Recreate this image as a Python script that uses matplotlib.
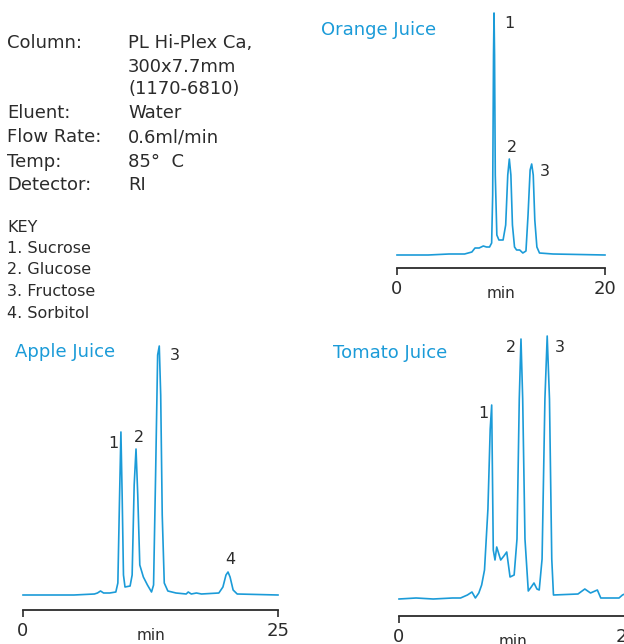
"""
Sugar profiles of three fruit juices on a PL Hi-Plex Ca column.
"""
import matplotlib
matplotlib.use("Agg")
import matplotlib.pyplot as plt

W, H = 624, 644
BLUE = "#1b9bd8"
DARK = "#2b2b2b"

# traces: time (min), detector response (a.u.)
orange_t = [0, 3, 5, 6.5, 7.2, 7.5, 7.9, 8.3, 8.6, 8.9, 9.1, 9.2, 9.28, 9.33, 9.38, 9.45, 9.6, 9.8,
            10.2, 10.45, 10.65, 10.8, 10.95, 11.1, 11.3, 11.5, 11.8, 12.1, 12.4, 12.6, 12.8, 12.95,
            13.1, 13.25, 13.45, 13.7, 15, 20]
orange_s = [0, 0, 1, 1, 3, 7, 7, 9, 8, 8, 12, 60, 200, 242, 200, 80, 20, 15,
            15, 30, 80, 96, 80, 30, 8, 5, 5, 2, 4, 40, 85, 91,
            80, 35, 8, 2, 1, 0]

apple_t = [0, 5, 7, 7.3, 7.6, 7.9, 8.5, 9.1, 9.3, 9.45, 9.6, 9.72, 9.85, 10.0, 10.5, 10.7, 10.9,
           11.08, 11.25, 11.45, 11.8, 12.2, 12.6, 12.8, 13.0, 13.2, 13.36, 13.5, 13.65, 13.85,
           14.2, 15, 16, 16.2, 16.5, 17, 17.5, 19.2, 19.6, 19.9, 20.1, 20.3, 20.6, 21, 25]
apple_s = [0, 0, 1, 2, 4, 2, 2, 3, 12, 90, 163, 100, 20, 8, 9, 20, 110,
           146, 100, 30, 18, 10, 3, 10, 120, 240, 249, 200, 80, 12,
           4, 2, 1, 3, 1, 2, 1, 2, 8, 20, 23, 18, 5, 1, 0]

tomato_t = [0, 1.5, 3, 4.7, 5.4, 6.0, 6.4, 6.7, 7.0, 7.25, 7.5, 7.8, 8.0, 8.13, 8.27, 8.42, 8.57,
            8.92, 9.2, 9.45, 9.74, 10.1, 10.35, 10.55, 10.7, 10.85, 11.05, 11.34, 11.6, 11.84,
            12.1, 12.3, 12.55, 12.8, 13.0, 13.2, 13.4, 13.55, 15.7, 16.3, 16.8, 17.4, 17.7, 19.3,
            19.6, 20]
tomato_s = [0, 1, 0, 1, 1, 4, 7, 1, 6, 14, 29, 90, 170, 194, 49, 39, 52,
            39, 43, 47, 22, 24, 60, 200, 260, 200, 60, 8, 12, 16,
            10, 9, 40, 200, 263, 200, 40, 4, 5, 10, 6, 9, 1, 1,
            4, 6]

orange_lbl, orange_lt, orange_ls = ["1", "2", "3"], [10.77, 11.06, 14.23], [232, 107, 83]
apple_lbl, apple_lt, apple_ls = ["1", "2", "3", "4"], [8.82, 11.37, 14.9, 20.3], [152, 157, 240, 35]
tomato_lbl, tomato_lt, tomato_ls = ["1", "2", "3"], [7.37, 9.82, 14.12], [186, 252, 252]

cond_keys = ["Column:", "", "", "Eluent:", "Flow Rate:", "Temp:", "Detector:"]
cond_vals = ["PL Hi-Plex Ca,", "300x7.7mm", "(1170-6810)", "Water", "0.6ml/min", "85°  C", "RI"]
key_lines = ["KEY", "1. Sucrose", "2. Glucose", "3. Fructose", "4. Sorbitol"]


def px(x, y):
    return x / W, 1 - y / H


def draw_panel(fig, x0, x1, y_top, y_base, y_axis, xmax, t, s, lbl, lt, ls, title, title_xy):
    ax = fig.add_axes([x0 / W, 1 - y_axis / H, (x1 - x0) / W, (y_axis - y_top) / H])
    ax.patch.set_visible(False)
    ax.plot(t, s, color=BLUE, lw=1.2, solid_joinstyle="round", clip_on=False)
    ax.set_xlim(0, xmax)
    ax.set_ylim(-(y_axis - y_base), y_base - y_top)
    for sp in ["top", "right", "left"]:
        ax.spines[sp].set_visible(False)
    ax.spines["bottom"].set_color(DARK)
    ax.spines["bottom"].set_linewidth(1.3)
    ax.set_yticks([])
    ax.set_xticks([0, xmax])
    ax.tick_params(axis="x", direction="out", length=5, width=1.2, colors=DARK, labelsize=13, pad=4)
    ax.text(xmax / 2, -(y_axis - y_base) - 25, "min", ha="center", va="center",
            fontsize=11, color=DARK, clip_on=False)
    for l, xt, yt in zip(lbl, lt, ls):
        ax.text(xt, yt, l, ha="center", va="center", fontsize=11.5, color=DARK, clip_on=False)
    fig.text(*px(*title_xy), title, ha="left", va="center", fontsize=13, color=BLUE)
    return ax


fig = plt.figure(figsize=(W / 100, H / 100), dpi=100)

# conditions block
rows_y = [43, 67, 89, 113, 137, 162, 185]
for k, v, yy in zip(cond_keys, cond_vals, rows_y):
    if k:
        fig.text(*px(7, yy), k, ha="left", va="center", fontsize=13, color=DARK)
    fig.text(*px(128, yy), v, ha="left", va="center", fontsize=13, color=DARK)

for line, yy in zip(key_lines, [227, 248, 270, 291, 313]):
    fig.text(*px(7, yy), line, ha="left", va="center", fontsize=11.5, color=DARK)

draw_panel(fig, 397, 605, 10, 255, 268, 20, orange_t, orange_s,
           orange_lbl, orange_lt, orange_ls, "Orange Juice", (321, 30))
draw_panel(fig, 23, 278, 340, 595, 610, 25, apple_t, apple_s,
           apple_lbl, apple_lt, apple_ls, "Apple Juice", (15, 352))
draw_panel(fig, 399, 627, 330, 599, 616, 20, tomato_t, tomato_s,
           tomato_lbl, tomato_lt, tomato_ls, "Tomato Juice", (333, 353))

fig.savefig("out.png", dpi=100)
plt.close(fig)
